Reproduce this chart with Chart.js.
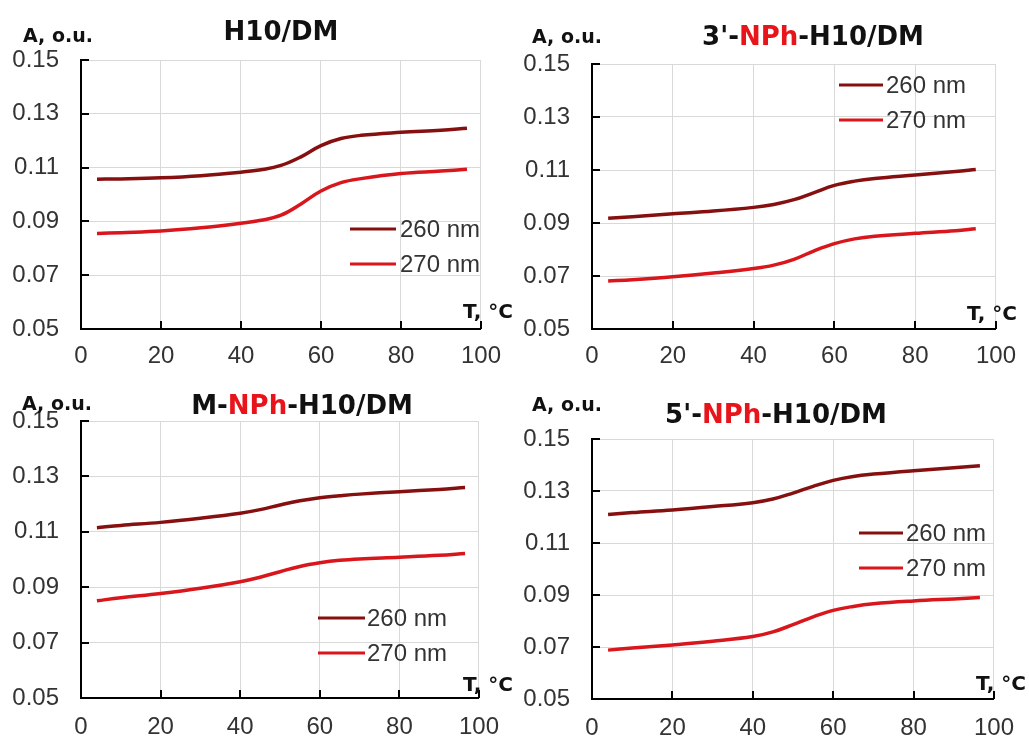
<!DOCTYPE html>
<html>
<head>
<meta charset="utf-8">
<script src="https://cdn.jsdelivr.net/npm/chart.js@4/dist/chart.umd.min.js"></script>
<style>
  html, body { margin: 0; padding: 0; background: #fff; }
  #wrap { position: relative; width: 1029px; height: 740px; overflow: hidden; }
  canvas { position: absolute; }
</style>
</head>
<body>
<div id="wrap">
  <canvas id="c0" width="514" height="370" style="left:0;top:0"></canvas>
  <canvas id="c1" width="515" height="370" style="left:514px;top:0"></canvas>
  <canvas id="c2" width="514" height="370" style="left:0;top:370px"></canvas>
  <canvas id="c3" width="515" height="370" style="left:514px;top:370px"></canvas>
</div>
<script>
// -------------------------------
// DATA
// -------------------------------
const tempsA = [4, 10, 20, 30, 40, 45, 50, 55, 60, 65, 70, 80, 90, 96.5];
const tempsB = [4, 10, 20, 30, 40, 45, 50, 55, 60, 65, 70, 80, 90, 95];

const h10_260 = [0.1057, 0.1058, 0.1062, 0.1070, 0.1083, 0.1092, 0.1108, 0.1140, 0.1182, 0.1208, 0.1220, 0.1231, 0.1239, 0.1246];
const h10_270 = [0.0855, 0.0858, 0.0864, 0.0876, 0.0893, 0.0904, 0.0923, 0.0965, 0.1013, 0.1044, 0.1059, 0.1078, 0.1087, 0.1094];

const nph3_260 = [0.0918, 0.0924, 0.0935, 0.0945, 0.0959, 0.0970, 0.0988, 0.1015, 0.1042, 0.1058, 0.1068, 0.1081, 0.1094, 0.1102];
const nph3_270 = [0.0681, 0.0686, 0.0697, 0.0711, 0.0728, 0.0741, 0.0763, 0.0795, 0.0822, 0.0840, 0.0850, 0.0861, 0.0871, 0.0878];

const nphM_260 = [0.1115, 0.1123, 0.1134, 0.1149, 0.1167, 0.1180, 0.1197, 0.1212, 0.1223, 0.1230, 0.1236, 0.1245, 0.1253, 0.1260];
const nphM_270 = [0.0851, 0.0862, 0.0877, 0.0896, 0.0920, 0.0936, 0.0956, 0.0975, 0.0988, 0.0997, 0.1002, 0.1008, 0.1015, 0.1022];

const nph5_260 = [0.1210, 0.1217, 0.1227, 0.1240, 0.1255, 0.1269, 0.1292, 0.1318, 0.1341, 0.1356, 0.1365, 0.1378, 0.1389, 0.1397];
const nph5_270 = [0.0688, 0.0696, 0.0708, 0.0722, 0.0740, 0.0758, 0.0786, 0.0816, 0.0841, 0.0856, 0.0866, 0.0877, 0.0885, 0.0890];

const seriesLabels = ["260 nm", "270 nm"];
const xTicks = [0, 20, 40, 60, 80, 100];
const yTicks = [0.05, 0.07, 0.09, 0.11, 0.13, 0.15];

const yAxisTitle = "A, o.u.";
const xAxisTitle = "T, \u00B0C";

// title pieces: [text, highlighted?]
const titleH10 = [["H10/DM", false]];
const title3 = [["3'-", false], ["NPh", true], ["-H10/DM", false]];
const titleM = [["M-", false], ["NPh", true], ["-H10/DM", false]];
const title5 = [["5'-", false], ["NPh", true], ["-H10/DM", false]];

// -------------------------------
// STYLE / LAYOUT
// -------------------------------
const colors = ["#861010", "#d8161c"];
const tickFont = '"Liberation Sans", Arial, sans-serif';
const boldFont = '"DejaVu Sans", Verdana, sans-serif';

const panels = [
  { id: "c0", temps: tempsA, s260: h10_260, s270: h10_270, title: titleH10,
    area: { l: 81, t: 60, r: 485, b: 329 }, xPad: 13,
    titleAt: [281, 40], yLab: [23, 42], xLab: [513, 318],
    legend: { x0: 350, x1: 396, tx: 400, rows: [229, 264] } },
  { id: "c1", temps: tempsB, s260: nph3_260, s270: nph3_270, title: title3,
    area: { l: 78, t: 64, r: 482, b: 329 }, xPad: 13,
    titleAt: [299, 45], yLab: [18, 43], xLab: [503, 320],
    legend: { x0: 325, x1: 369, tx: 372, rows: [85, 120] } },
  { id: "c2", temps: tempsA, s260: nphM_260, s270: nphM_270, title: titleM,
    area: { l: 81, t: 51, r: 486, b: 328 }, xPad: 15,
    titleAt: [302, 44], yLab: [22, 40], xLab: [513, 321],
    legend: { x0: 318, x1: 365, tx: 367, rows: [248, 283] } },
  { id: "c3", temps: tempsA, s260: nph5_260, s270: nph5_270, title: title5,
    area: { l: 78, t: 69, r: 482, b: 329 }, xPad: 15,
    titleAt: [262, 53], yLab: [18, 41], xLab: [512, 320],
    legend: { x0: 345, x1: 389, tx: 392, rows: [163, 198] } },
];

// -------------------------------
// PLUGINS
// -------------------------------
const inwardTicks = {
  id: "inwardTicks",
  afterDraw(chart) {
    const { ctx, chartArea: a, scales: { x, y } } = chart;
    ctx.save();
    ctx.strokeStyle = "#000";
    ctx.lineWidth = 2;
    y.ticks.forEach(t => {
      const py = Math.round(y.getPixelForValue(t.value));
      ctx.beginPath(); ctx.moveTo(a.left, py); ctx.lineTo(a.left + 8, py); ctx.stroke();
    });
    x.ticks.forEach(t => {
      const px = Math.round(x.getPixelForValue(t.value));
      ctx.beginPath(); ctx.moveTo(px, a.bottom); ctx.lineTo(px, a.bottom - 8); ctx.stroke();
    });
    ctx.restore();
  }
};

const panelText = {
  id: "panelText",
  afterDraw(chart, args, opts) {
    const p = opts.panel;
    const ctx = chart.ctx;
    ctx.save();

    // title, centred, with the red NPh part
    ctx.font = "bold 26px " + boldFont;
    ctx.textBaseline = "alphabetic";
    ctx.textAlign = "left";
    const total = p.title.reduce((w, s) => w + ctx.measureText(s[0]).width, 0);
    let tx = p.titleAt[0] - total / 2;
    p.title.forEach(([txt, red]) => {
      ctx.fillStyle = red ? "#e8141c" : "#111";
      ctx.fillText(txt, tx, p.titleAt[1]);
      tx += ctx.measureText(txt).width;
    });

    // axis titles
    ctx.fillStyle = "#111";
    ctx.font = "bold 19px " + boldFont;
    ctx.fillText(yAxisTitle, p.yLab[0], p.yLab[1]);
    ctx.font = "bold 20px " + boldFont;
    ctx.textAlign = "right";
    ctx.fillText(xAxisTitle, p.xLab[0], p.xLab[1]);

    // legend
    const lg = p.legend;
    ctx.textAlign = "left";
    ctx.textBaseline = "middle";
    ctx.font = "24px " + tickFont;
    chart.data.datasets.forEach((ds, i) => {
      const yy = lg.rows[i];
      ctx.strokeStyle = ds.borderColor;
      ctx.lineWidth = 3;
      ctx.beginPath(); ctx.moveTo(lg.x0, yy); ctx.lineTo(lg.x1, yy); ctx.stroke();
      ctx.fillStyle = "#333";
      ctx.fillText(ds.label, lg.tx, yy + 1);
    });
    ctx.restore();
  }
};

// -------------------------------
// CHARTS
// -------------------------------
function makeChart(p) {
  const canvas = document.getElementById(p.id);
  const W = canvas.width, H = canvas.height;
  const series = [p.s260, p.s270];

  new Chart(canvas.getContext("2d"), {
    type: "line",
    data: {
      datasets: series.map((vals, i) => ({
        label: seriesLabels[i],
        data: p.temps.map((t, k) => ({ x: t, y: vals[k] })),
        borderColor: colors[i],
        borderWidth: 3.5,
        pointRadius: 0,
        fill: false,
        tension: 0.4,
      })),
    },
    options: {
      responsive: false,
      animation: false,
      events: [],
      layout: { padding: { left: 0, top: p.area.t, right: W - p.area.r, bottom: 0 } },
      plugins: {
        legend: { display: false },
        tooltip: { enabled: false },
        panelText: { panel: p },
      },
      scales: {
        x: {
          type: "linear",
          min: 0,
          max: 100,
          afterBuildTicks: s => { s.ticks = xTicks.map(v => ({ value: v })); },
          afterFit: s => { s.height = H - p.area.b; },
          grid: { color: "#d9d9d9", lineWidth: 1, drawTicks: false },
          border: { color: "#000", width: 2 },
          ticks: {
            font: { family: tickFont, size: 24 },
            color: "#333",
            padding: p.xPad,
            maxRotation: 0,
            autoSkip: false,
          },
        },
        y: {
          type: "linear",
          min: 0.05,
          max: 0.15,
          afterBuildTicks: s => { s.ticks = yTicks.map(v => ({ value: v })); },
          afterFit: s => { s.width = p.area.l; },
          grid: { color: "#d9d9d9", lineWidth: 1, drawTicks: false },
          border: { color: "#000", width: 2 },
          ticks: {
            font: { family: tickFont, size: 24 },
            color: "#333",
            padding: 22,
            callback: v => v.toFixed(2),
          },
        },
      },
    },
    plugins: [inwardTicks, panelText],
  });
}

panels.forEach(makeChart);
</script>
</body>
</html>
